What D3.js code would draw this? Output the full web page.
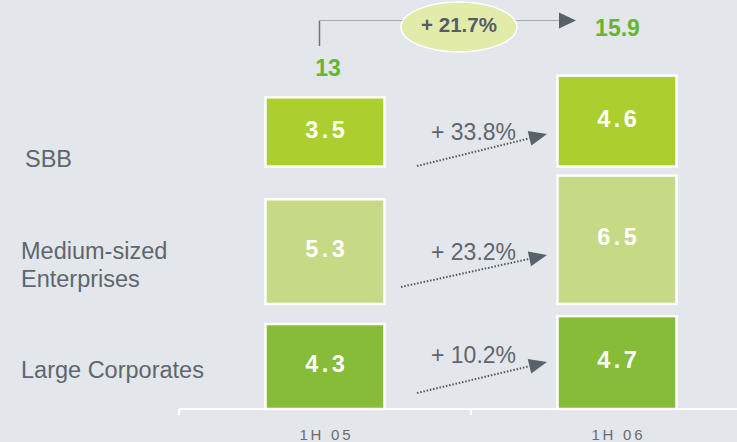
<!DOCTYPE html>
<html><head><meta charset="utf-8">
<script src="https://cdn.jsdelivr.net/npm/d3@7"></script>
<style>
html,body{margin:0;padding:0;background:#e3e6eb;}
svg{display:block;font-family:"Liberation Sans",Arial,sans-serif;}
</style></head>
<body>
<svg id="chart" width="737" height="442"></svg>
<script>
// ---- data ----
const periods = ["1H 05", "1H 06"];
const segments = ["Large Corporates", "Medium-sized Enterprises", "SBB"];
const largeCorporates = [4.3, 4.7];
const mediumSized = [5.3, 6.5];
const sbb = [3.5, 4.6];
const totals = [13, 15.9];
const segmentGrowth = ["+ 10.2%", "+ 23.2%", "+ 33.8%"];
const totalGrowth = "+ 21.7%";
const segmentLabelLines = [["Large Corporates"], ["Medium-sized", "Enterprises"], ["SBB"]];

// ---- layout ----
const W = 737, H = 442;
const colors = ["#86bc37", "#c6d984", "#aacf2e"];
const rowBase = [409, 304, 166.5];        // bottom of each row band
const svg = d3.select("#chart");
const x = d3.scaleBand().domain(periods).range([179, 763]).paddingInner(0).paddingOuter(0);
const barW = 119;
const h = d3.scaleLinear().domain([0, 10]).range([0, 197.6]);
const series = [largeCorporates, mediumSized, sbb];

// axis
svg.append("line").attr("x1", 179).attr("x2", W).attr("y1", 409).attr("y2", 409)
  .attr("stroke", "#fff").attr("stroke-width", 2);
const tickXs = [x.range()[0]].concat(periods.slice(1).map(p => x(p)));
svg.selectAll(".tick").data(tickXs).enter().append("line")
  .attr("x1", d => d).attr("x2", d => d).attr("y1", 409).attr("y2", 415)
  .attr("stroke", "#fff").attr("stroke-width", 2);
svg.selectAll(".xlab").data(periods).enter().append("text")
  .attr("x", d => x(d) + x.bandwidth() / 2 + 1.4).attr("y", 440)
  .attr("text-anchor", "middle").attr("font-size", 15).attr("letter-spacing", 2.8)
  .attr("fill", "#6a6d71").text(d => d);

// bars
series.forEach((vals, si) => {
  const g = svg.append("g");
  g.selectAll("rect").data(vals).enter().append("rect")
    .attr("x", (d, i) => x(periods[i]) + x.bandwidth() / 2 - barW / 2)
    .attr("y", d => rowBase[si] - h(d))
    .attr("width", barW).attr("height", d => h(d))
    .attr("fill", colors[si]).attr("stroke", "#fff").attr("stroke-width", 2.5);
  g.selectAll("text").data(vals).enter().append("text")
    .attr("x", (d, i) => x(periods[i]) + x.bandwidth() / 2 + 1.75)
    .attr("y", d => rowBase[si] - h(d) / 2 + 5.6)
    .attr("text-anchor", "middle").attr("font-size", 23.5).attr("font-weight", "bold")
    .attr("letter-spacing", 3.5).attr("fill", "#fff").text(d => d.toFixed(1));
});

// segment labels
const labelX = [21, 21, 25];
const labelY = [378, 259, 167];
segmentLabelLines.forEach((lines, si) => {
  const t = svg.append("text").attr("x", labelX[si]).attr("y", labelY[si])
    .attr("font-size", 23.5).attr("fill", "#5f666d");
  lines.forEach((ln, li) => t.append("tspan").attr("x", labelX[si]).attr("dy", li ? 28 : 0).text(ln));
});

// growth arrows
const arrowStart = [[417, 393], [401, 287], [417, 166]];
const arrowTip = [[547, 362], [547, 255], [547, 134]];
const growthY = [363, 260, 139.5];
segmentGrowth.forEach((g, si) => {
  const [x0, y0] = arrowStart[si], [x1, y1] = arrowTip[si];
  const ang = Math.atan2(y1 - y0, x1 - x0);
  const L = 18, Wd = 7.5;
  const bx = x1 - L * Math.cos(ang), by = y1 - L * Math.sin(ang);
  svg.append("line").attr("x1", x0).attr("y1", y0).attr("x2", bx).attr("y2", by)
    .attr("stroke", "#4f575e").attr("stroke-width", 2).attr("stroke-dasharray", "1.5,1.8");
  const px = -Math.sin(ang), py = Math.cos(ang);
  svg.append("path")
    .attr("d", `M${x1},${y1}L${bx + px * Wd},${by + py * Wd}L${bx - px * Wd},${by - py * Wd}Z`)
    .attr("fill", "#5a6269");
  svg.append("text").attr("x", 431).attr("y", growthY[si]).attr("font-size", 23)
    .attr("fill", "#5f666d").text(g);
});

// totals
const totalY = [76, 36];
svg.selectAll(".tot").data(totals).enter().append("text")
  .attr("x", (d, i) => x(periods[i]) + x.bandwidth() / 2 + (i ? 0.5 : 3))
  .attr("y", (d, i) => totalY[i])
  .attr("text-anchor", "middle").attr("font-size", 23).attr("font-weight", "bold")
  .attr("fill", "#6ab42d").text(d => d);

// total growth connector
svg.append("line").attr("x1", 319.5).attr("x2", 319.5).attr("y1", 46).attr("y2", 20.5)
  .attr("stroke", "#6d737a").attr("stroke-width", 1.5);
svg.append("line").attr("x1", 319.5).attr("x2", 561).attr("y1", 20.5).attr("y2", 20.5)
  .attr("stroke", "#a3a8ae").attr("stroke-width", 1.2);
svg.append("path").attr("d", "M559,12.5L576,20.5L559,28.5Z").attr("fill", "#5a6269");
svg.append("ellipse").attr("cx", 459).attr("cy", 27).attr("rx", 58).attr("ry", 25)
  .attr("fill", "#e3ebab").attr("stroke", "#fff").attr("stroke-width", 1.5);
svg.append("text").attr("x", 459).attr("y", 32).attr("text-anchor", "middle")
  .attr("font-size", 20.5).attr("font-weight", "bold").attr("fill", "#555d66").text(totalGrowth);
</script>
</body></html>
